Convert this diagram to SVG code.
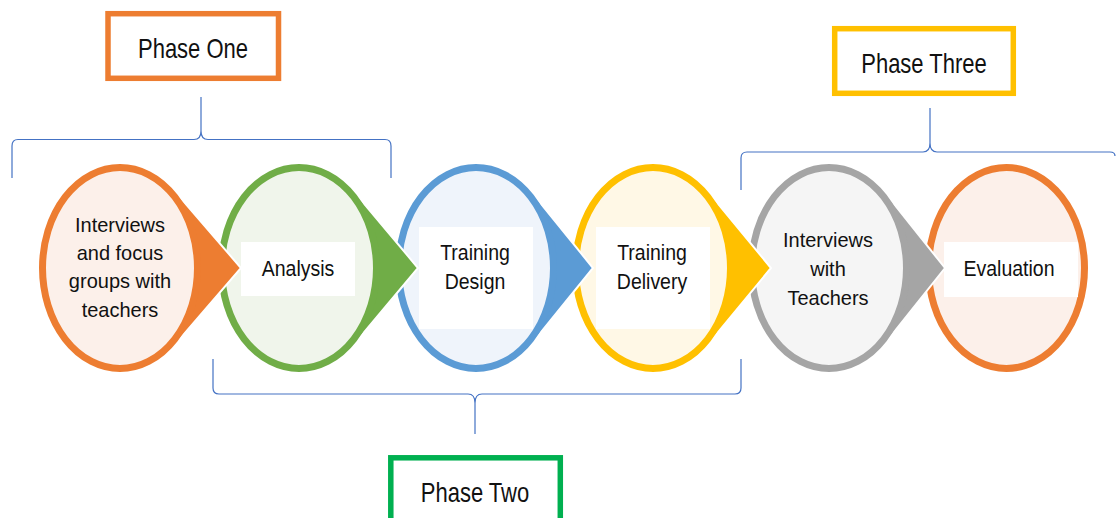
<svg xmlns="http://www.w3.org/2000/svg" width="1116" height="518" viewBox="0 0 1116 518">
<style>
.t{font-family:"Liberation Sans",Arial,sans-serif;fill:#111;text-anchor:middle}
.n{font-size:20px}
.b{font-size:19.5px}
.p{font-size:22px}
.tip{stroke:#fff;stroke-width:2;stroke-linejoin:miter}
.ring{stroke-width:7}
.box{fill:#fff}
.brace{fill:none;stroke:#4472C4;stroke-width:1.2}
.or{fill:#ED7D31}.orf{fill:#FCF0EA;stroke:#ED7D31}
.gr{fill:#70AD47}.grf{fill:#F0F5EB;stroke:#70AD47}
.bl{fill:#5B9BD5}.blf{fill:#EFF4FB;stroke:#5B9BD5}
.ye{fill:#FFC000}.yef{fill:#FFF8E6;stroke:#FFC000}
.gy{fill:#A5A5A5}.gyf{fill:#F5F5F5;stroke:#A5A5A5}
</style>

<g id="connectors">
<path class="brace" d="M12,178 L12,146 Q12,139.5 18,139.5 L194,139.5 Q201,139.5 201,131 L201,97 M201,131 Q201,139.5 208,139.5 L385,139.5 Q391,139.5 391,146 L391,178"/>
<path class="brace" d="M213,359 L213,388 Q213,394 219,394 L468,394 Q475,394 475,403 L475,434 M475,403 Q475,394 482,394 L735,394 Q741,394 741,388 L741,359"/>
<path class="brace" d="M741,190 L741,158 Q741,152 747,152 L923,152 Q930,152 930,143 L930,108 M930,143 Q930,152 937,152 L1110,152 Q1115,152 1115,156"/>
</g>

<g id="phase-one">
<rect x="108" y="13.7" width="170.5" height="64.6" fill="#fff" stroke="#ED7D31" stroke-width="5.5"/>
<text class="t p" transform="translate(193,58.3) scale(1,1.25)">Phase One</text>
</g>
<g id="phase-three">
<rect x="834.7" y="28.7" width="178.6" height="64.6" fill="#fff" stroke="#FFC000" stroke-width="5.5"/>
<text class="t p" transform="translate(924,73.3) scale(1,1.25)">Phase Three</text>
</g>
<g id="phase-two">
<rect x="390.8" y="457.8" width="169.5" height="70" fill="#fff" stroke="#00B050" stroke-width="5.5"/>
<text class="t p" transform="translate(475,502) scale(1,1.25)">Phase Two</text>
</g>

<g id="node-evaluation">
<ellipse class="orf ring" cx="1006.5" cy="268" rx="78" ry="100.5"/>
<rect class="box" x="944" y="242" width="134" height="55"/>
<text class="t b" transform="translate(1009,276) scale(1,1.15)">Evaluation</text>
</g>

<g id="node-interviews-teachers">
<polygon class="gy tip" points="885.6,193.5 945,268 885.6,342.5"/>
<ellipse class="gyf ring" cx="829" cy="268" rx="77.5" ry="100.5"/>
<text class="t n" transform="translate(828,246.5) scale(1,1.05)">Interviews</text>
<text class="t n" transform="translate(828,275.5) scale(1,1.05)">with</text>
<text class="t n" transform="translate(828,304.5) scale(1,1.05)">Teachers</text>
</g>

<g id="node-training-delivery">
<polygon class="ye tip" points="708.6,192.4 771,268 708.6,343.6"/>
<ellipse class="yef ring" cx="653" cy="268" rx="77.5" ry="100.5"/>
<rect class="box" x="596" y="227" width="114" height="102"/>
<text class="t b" transform="translate(652,260) scale(1,1.15)">Training</text>
<text class="t b" transform="translate(652,289.3) scale(1,1.15)">Delivery</text>
</g>

<g id="node-training-design">
<polygon class="bl tip" points="532.1,192.9 593,268 532.1,343.1"/>
<ellipse class="blf ring" cx="476" cy="268" rx="77.5" ry="100.5"/>
<rect class="box" x="419" y="227" width="114" height="102"/>
<text class="t b" transform="translate(475,260) scale(1,1.15)">Training</text>
<text class="t b" transform="translate(475,289.3) scale(1,1.15)">Design</text>
</g>

<g id="node-analysis">
<polygon class="gr tip" points="354.1,191.8 418,268 354.1,344.2"/>
<ellipse class="grf ring" cx="299" cy="268" rx="77.5" ry="100.5"/>
<rect class="box" x="241" y="242" width="114" height="54"/>
<text class="t b" transform="translate(298,276) scale(1,1.15)">Analysis</text>
</g>

<g id="node-interviews-focus">
<polygon class="or tip" points="174.2,190.7 241,268 174.2,345.3"/>
<ellipse class="orf ring" cx="120" cy="268" rx="77.5" ry="100.5"/>
<text class="t n" transform="translate(120,231.7) scale(1,1.05)">Interviews</text>
<text class="t n" transform="translate(120,260) scale(1,1.05)">and focus</text>
<text class="t n" transform="translate(120,288.3) scale(1,1.05)">groups with</text>
<text class="t n" transform="translate(120,316.7) scale(1,1.05)">teachers</text>
</g>
</svg>
